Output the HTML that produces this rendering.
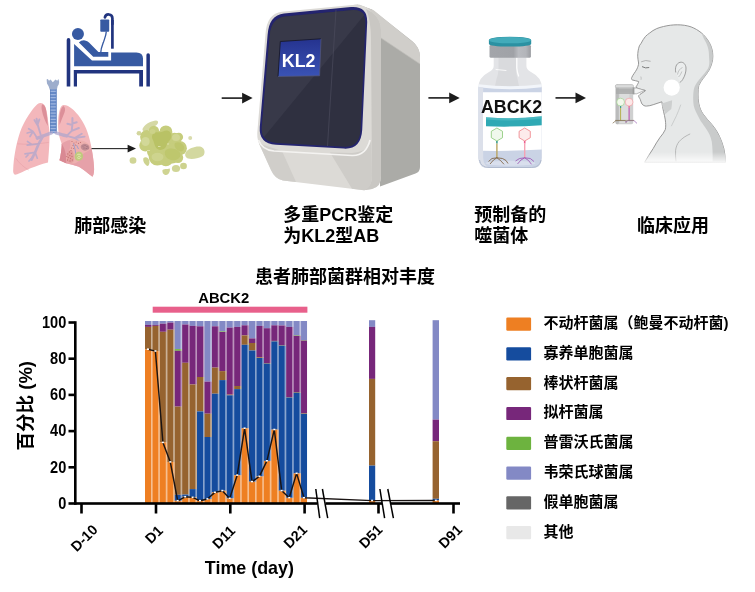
<!DOCTYPE html>
<html lang="zh"><head><meta charset="utf-8"><title>ABCK2</title>
<style>
html,body{margin:0;padding:0;background:#fff;}
svg{display:block;}
text{font-family:"Liberation Sans", "Noto Sans CJK SC", sans-serif;font-weight:bold;fill:#000;}
.tk{font-size:14.6px;}
.tx{font-size:14.3px;}
.lg{font-size:15px;}
.h{font-size:18px;}
.ab{font-size:14.8px;}
.yl{font-size:18.5px;}
.xl{font-size:17.9px;}
</style></head><body>
<svg width="755" height="592" viewBox="0 0 755 592">
<rect width="755" height="592" fill="#fff"/>
<g id="illus"><defs>
<linearGradient id="gScr" x1="0" y1="0" x2="0" y2="1"><stop offset="0" stop-color="#25338F"/><stop offset="1" stop-color="#3A53B5"/></linearGradient>
<linearGradient id="gSide" x1="0" y1="0" x2="1" y2="0"><stop offset="0" stop-color="#B4B3AF"/><stop offset="1" stop-color="#A6A5A1"/></linearGradient>
<linearGradient id="gFade" x1="0" y1="0" x2="0" y2="1"><stop offset="0" stop-color="#fff" stop-opacity="0"/><stop offset="1" stop-color="#fff" stop-opacity="1"/></linearGradient>
<linearGradient id="gCap" x1="0" y1="0" x2="1" y2="0"><stop offset="0" stop-color="#3C9FAE"/><stop offset="0.5" stop-color="#4FB4C2"/><stop offset="1" stop-color="#2F8C9B"/></linearGradient>
<linearGradient id="gCol" x1="0" y1="0" x2="1" y2="0"><stop offset="0" stop-color="#A3A5AA"/><stop offset="0.58" stop-color="#A0A2A7"/><stop offset="0.7" stop-color="#B9BBC0"/><stop offset="0.88" stop-color="#B3B5BA"/><stop offset="1" stop-color="#9A9CA1"/></linearGradient>
</defs>

<!-- bed icon -->
<g id="bed">
<path d="M66.7 86.6V39.9A1.8 1.8 0 0 1 70.3 39.9V86.6Z" fill="#21347F"/>
<path d="M146.4 86.6V54.9A1.75 1.75 0 0 1 149.9 54.9V86.6Z" fill="#21347F"/>
<path d="M73.8 70.1H143V86.6H139.2V73.5H77V86.6H73.8Z" fill="#21347F"/>
<path d="M74.1 44.1L92 60.4H111.1V52.4H136.4Q143 52.4 143 58.6V66.3H74.1Z" fill="#375AA2"/>
<path d="M78.9 42.6Q81 40 85 40.4Q87.5 40.8 89 42.6L98.4 52H108.3V56.8H93.2Z" fill="#375AA2"/>
<circle cx="77.95" cy="33.9" r="6" fill="#375AA2"/>
<rect x="100.3" y="19.5" width="8.9" height="12.3" rx="0.8" fill="#375AA2"/>
<path d="M112.4 24V18.2A3.8 3.8 0 0 0 104.9 17.4" fill="none" stroke="#21347F" stroke-width="2.7" stroke-linecap="round"/><rect x="111.050" y="20" width="2.700" height="28.700" fill="#21347F"/>
<path d="M106.3 31.5C106 36 104.7 38.5 103.5 42C102 46 100.9 48 100.8 52.2" fill="none" stroke="#375AA2" stroke-width="1.35"/>
</g>

<!-- lungs -->
<g id="lungs">
<path d="M46.600 79.500L47.800 79L49 80.700L50.600 79.400L52.800 82.200L55.500 79.400L57.200 80.800L58.500 79L59.200 82L58.700 84.500L57.600 86.200L56.800 90H49.900L48.600 86.200L47 83.500Z" fill="#9DADCC"/>
<rect x="50" y="89.500" width="6.700" height="43.700" fill="#668AC7"/>
<path d="M50 91.4H56.7M50 94.5H56.7M50 97.6H56.7M50 100.7H56.7M50 103.8H56.7M50 106.9H56.7M50 110.0H56.7M50 113.1H56.7M50 116.2H56.7M50 119.3H56.7M50 122.4H56.7M50 125.5H56.7M50 128.6H56.7M50 131.7H56.7" stroke="#9DB5E0" stroke-width="1.25"/>
<rect x="50" y="89.500" width="1" height="43.700" fill="#5679B8" opacity="0.5"/>
<rect x="55.700" y="89.500" width="1" height="43.700" fill="#5679B8" opacity="0.5"/>
<!-- left lung -->
<path d="M40.900 102.900C43.500 103 45.300 105.500 45.900 108.600C47 113 47.800 117 48 120.800C48.600 125 49.300 129 49.500 132.300C49.700 139 49.300 146 48.800 152.400L48 162.500C44.500 163.300 41.500 164.300 38.700 165.300C33.500 167.200 28.500 169 24.400 171C21 172.700 18 174.300 15 174.700C13.400 174.300 12.900 172 13.200 169.600C13.400 163.500 14 158 15 152.400C16.200 145.500 17.800 139 20 132.300C22.300 126 25.200 120.200 28.700 115.100C31.500 110.800 34.300 107 37.300 104.300C38.500 103.300 39.700 102.800 40.900 102.900Z" fill="#F3B7BB"/>
<path d="M42.300 104.200C45 105 46 108.500 46.300 111C47 116 47.700 121 47.900 126C45.500 122 42.800 116 41.800 110C41.400 107.500 41.500 105 42.300 104.200Z" fill="#DC8F99"/>
<path d="M17.200 143.800C27 144.800 38 144 48.800 142.400M15.700 158.200C19 163 24 167.500 28.700 170" fill="none" stroke="#E49AA3" stroke-width="0.6" opacity="0.8"/>
<!-- right lung -->
<path d="M63.100 105C66.500 104.800 69.300 106.500 71.700 108.600C75 111.300 77.800 114.500 80.300 118C83.500 122.500 85.800 127.200 87.500 132.300C89.500 138 90.800 143.500 91.800 149.500C92.800 155.500 93.700 161 94 166.800C94.300 170.500 94 174.500 92.500 176.800C88 173.500 83.500 169.500 78.900 166.800C74.500 165 70 164.200 66 163.200L59.500 160.300C60.200 157.500 60.700 155 61 152.400C61.500 149.500 61.900 146.500 61.700 143.800C60.500 140.500 59.300 137 58.800 133.800C58.100 129.500 57.900 125 58.100 120.800C58.300 117 58.800 113.500 59.500 110.800C60.200 108 61.300 105.500 63.100 105Z" fill="#F3B7BB"/>
<path d="M63.300 106C60.800 108 60 112 59.600 116C59.300 119 59.300 122 59.600 125C61 121 63 116.500 64.500 112.500C65.500 110 65.300 107 63.300 106Z" fill="#DC8F99"/>
<path d="M61.700 143.800C64 142 67 140.500 70 140C74 139.700 78 141 81 143C84.500 145.300 88.500 147.300 91.800 149.500C92.800 155.500 93.700 161 94 166.800C94.300 170.500 94 174.500 92.500 176.800C88 173.500 83.500 169.500 78.900 166.800C74.500 165 70 164.200 66 163.200L59.500 160.300C60.200 157.500 60.700 155 61 152.400C61.500 149.500 61.900 146.500 61.700 143.800Z" fill="#E6A1A9"/>
<path d="M61.700 143.800C63.500 146.500 65 150 65.700 154C66.200 157 66.400 160 66.200 163.200L59.500 160.300C60.200 157.500 60.700 155 61 152.400C61.500 149.500 61.900 146.500 61.700 143.800Z" fill="#D98993"/>
<!-- bronchi -->
<g fill="none" stroke="#ADA6CD" stroke-linecap="round" stroke-linejoin="round" opacity="0.72">
<path d="M51.500 132.800L43 136L37.300 138.200" stroke-width="3.400"/>
<path d="M43 136L38.700 143.800L35.100 152.400L31.500 159.600" stroke-width="2.700"/>
<path d="M40.800 135L38 125.900L36.600 118.700M38 125.900L34.400 120.100M37.800 124L39.400 119.400" stroke-width="1.900"/>
<path d="M37.300 138.200L33 131.500L27.200 133M33 131.500L28.700 128.700M33 131.500L30 136.500" stroke-width="1.800"/>
<path d="M38.700 143.800L27.200 145.200M32 144.600L27.500 141.500M35.100 152.400L25 153.800M30 153L26 157M35.100 152.400L37.300 158.200M33 156.500L29 161" stroke-width="1.700"/>
<path d="M56 132.800L63 135L66.700 135.900" stroke-width="3.400"/>
<path d="M66.700 135.900L71.700 130.900L72.400 124L72.400 118M72.400 125L67.400 123.700M72.400 123.500L76.700 122.300M71.700 130.900L78.900 128" stroke-width="2"/>
<path d="M66.700 135.900L74.600 138L81.800 133.800M74.600 138L84.600 136.600M74.600 138L80 142" stroke-width="1.900"/>
</g>
<!-- infection -->
<g>
<path d="M70.300 139.500C72.500 138.300 75.500 139.800 78 140.800C81.500 139.800 85 141.300 88 143.500C90.500 145.300 91 148 89.500 150C87 152 84 152.300 82.500 154.800C81.500 158.500 79 162 75.500 163.200C71 164.200 66.800 163 66 159C66 155 68.500 151.500 70 148C70.800 145 70 142 70.300 139.500Z" fill="#EDB0AE"/>
<g fill="#B4555B" opacity="0.72">
<circle cx="72" cy="141.500" r="0.600"/><circle cx="74" cy="143" r="0.600"/><circle cx="76.200" cy="142" r="0.600"/><circle cx="78.500" cy="143.300" r="0.600"/><circle cx="73" cy="145.500" r="0.600"/><circle cx="75.500" cy="145" r="0.600"/><circle cx="71.500" cy="148" r="0.600"/><circle cx="73.700" cy="148.500" r="0.600"/><circle cx="80.500" cy="142.500" r="0.600"/>
<circle cx="67.800" cy="154" r="0.650"/><circle cx="69.800" cy="155.500" r="0.650"/><circle cx="68.300" cy="157.500" r="0.650"/><circle cx="70.500" cy="158.500" r="0.650"/><circle cx="69.500" cy="152" r="0.650"/><circle cx="71.500" cy="153.500" r="0.650"/><circle cx="67.500" cy="160" r="0.650"/><circle cx="70" cy="161" r="0.650"/><circle cx="72" cy="156.500" r="0.650"/><circle cx="72.300" cy="160" r="0.650"/><circle cx="66.800" cy="156.500" r="0.600"/><circle cx="71" cy="150.500" r="0.600"/>
</g>
<path d="M68.500 151C66.800 154 66.300 158 67.300 161.500C69 163.300 72 163.300 73.500 161.500C74.500 158 74 154 72.500 151C71 150 69.500 150 68.500 151Z" fill="#CF7C7C" opacity="0.35"/>
<path d="M73.500 143.500L75.200 150L76 156M76.500 145L78.500 149" stroke="#8F9BD0" stroke-width="0.900" fill="none" opacity="0.9"/>
<path d="M81 145.500C82.500 143.500 85.500 143.300 87.500 144.500C89.500 145.800 90 148 88.500 149.500C86.500 151 83.500 151 82 149.500C80.800 148.300 80.300 146.800 81 145.500Z" fill="#9C6F7E" opacity="0.55"/>
<g fill="#7A4F63" opacity="0.6"><circle cx="83" cy="146" r="0.550"/><circle cx="85" cy="145.300" r="0.550"/><circle cx="87" cy="146.500" r="0.550"/><circle cx="84" cy="148" r="0.550"/><circle cx="86.200" cy="148.500" r="0.550"/><circle cx="88" cy="148" r="0.550"/></g>
<path d="M75.500 153.500C77 151.500 80.500 151.300 82 153C83.500 154.800 83.500 157.500 82 159.300C80.500 161 77.500 161.300 75.800 159.800C74.300 158.300 74.300 155.300 75.500 153.500Z" fill="#BCCB7A" opacity="0.92"/>
<path d="M77 155C78 153.800 80 153.800 80.800 155M80.800 157.500C80 158.800 78 158.800 77.200 157.700M78.300 156.300H79.800" fill="none" stroke="#E6EDB5" stroke-width="0.800" stroke-linecap="round"/>
</g>
</g>

<!-- arrow lungs->sputum and flow arrows -->
<g id="arrows" fill="#1c1c1c" stroke="none">
<rect x="91.5" y="148.1" width="37" height="1.05"/><path d="M127.6 144.8L136 148.6L127.6 152.4Z"/>
<rect x="221.7" y="97.3" width="21" height="1.6"/><path d="M242.1 92.8L252.6 98.1L242.1 103.4Z"/>
<rect x="428.400" y="97.100" width="21.500" height="1.600"/><path d="M449.200 92.600L459.700 97.900L449.200 103.200Z"/>
<rect x="555.500" y="97.100" width="21" height="1.600"/><path d="M575.500 92.600L586 97.900L575.500 103.200Z"/>
</g>

<!-- sputum -->
<g id="sputum">
<path d="M143 128C146 123 152 121 156 120.5C159 120.5 158.5 124 156 125.5C152 127.5 148 131 145 131.5C142.5 131.5 142 129.5 143 128Z" fill="#D5D8A4"/>
<ellipse cx="139" cy="133.2" rx="2.4" ry="2.2" fill="#D3D69E"/>
<ellipse cx="190.2" cy="138" rx="2" ry="2" fill="#DADCAE"/>
<path d="M186 152C189 148 197 145.5 201.5 147C205.5 149 205.5 155 202 156.5C198 158.5 192 159.5 188 158.5C185 157.5 184.5 154 186 152Z" fill="#D3D8A0"/>
<ellipse cx="133" cy="160.5" rx="3.4" ry="3.3" fill="#D0D596"/>
<path d="M143.5 158C146 156 149.5 158.5 149.5 162C149.5 165 148 166.8 146.5 165.5C144.5 164 142.5 161 143.5 158Z" fill="#CDD390"/>
<path d="M162.5 170C165 168 168 169.5 169.7 168.5C170.5 171 169 174.5 166 175C163.5 175 162 172.5 162.5 170Z" fill="#CFD492"/>
<ellipse cx="176" cy="168.5" rx="4.1" ry="3.5" fill="#D0D596"/>
<ellipse cx="183.5" cy="166" rx="3.4" ry="3.2" fill="#CDD28E"/>
<g fill="#C6CD7D"><circle cx="147" cy="137" r="6.9"/><circle cx="145.3" cy="145.6" r="6"/><circle cx="153.9" cy="131" r="5.2"/><circle cx="165.9" cy="131.9" r="6.5"/><circle cx="159" cy="141.3" r="10.3"/><circle cx="174.5" cy="139.6" r="6.9"/><circle cx="178.8" cy="137" r="4.3"/><circle cx="179.7" cy="148.2" r="7.2"/><circle cx="171.1" cy="153.4" r="10.3"/><circle cx="157.3" cy="156.8" r="8.6"/><circle cx="153.9" cy="151.7" r="6.9"/><circle cx="165.9" cy="159.4" r="6.9"/><circle cx="178" cy="157.7" r="5.2"/><circle cx="150" cy="141" r="8"/></g>
<path d="M153 134C156 130.500 160 133.500 163 131.500C167 129 171.500 131.500 171.500 136C171.500 140 167.500 141.500 166.500 145.500C165.500 149.500 160.500 151 157.500 149C154.500 147 154.500 143 153 140C151.800 138 151.500 135.500 153 134Z" fill="#B9C265"/>
<path d="M166 150C170 147.500 176 148.500 179 151.500C182 155 179.500 159 175.500 160C171.500 161 167 159 165.500 156C164.500 153.500 164.500 151 166 150Z" fill="#BCC56A" opacity="0.85"/>
<path d="M175 143C178 141 183 143 184 146.500C185 150 182 152 179 151C176 150 173.500 146 175 143Z" fill="#BAC366" opacity="0.7"/>
<ellipse cx="145.500" cy="141.500" rx="4.200" ry="4.500" fill="#D4D99C" opacity="0.85"/>
<ellipse cx="176" cy="137.500" rx="4" ry="3.600" fill="#D2D798" opacity="0.85"/>
<ellipse cx="157.500" cy="157" rx="6" ry="4.200" fill="#D0D692" opacity="0.8"/>
<ellipse cx="152.500" cy="131.500" rx="3" ry="2.500" fill="#CDD38C" opacity="0.8"/>
<path d="M147 150.500h3M158 146.500h2.500M167 144h2" stroke="#E6EABF" stroke-width="0.7" fill="none"/>
</g>

<!-- PCR machine -->
<g id="machine">
<!-- right side body -->
<path d="M357 4.5L372 9.5L412 41Q420 47.5 420 57V167Q420 172 415.5 173.5L380 186.5L379 24Z" fill="#ABABA7"/>
<!-- top face -->
<path d="M352 5.2Q357.5 3.6 363 6L374 10.5L414 43Q420 48.500 420 57V64L381 38L371 14Z" fill="#D0CECA"/>
<path d="M381 38L420 64" fill="none" stroke="#BEBDB9" stroke-width="0.7"/>
<!-- front bezel + lower front -->
<path d="M282 11.700L352 5Q366 4 371.500 12Q381 19 381 30V176Q381 187 372 189L364 190.300L283 180.500Q275 179 271 170L259 143.500Q256.500 137 257.500 130L265.500 34Q266.800 13.300 282 11.700Z" fill="#DCDAD6"/>
<path d="M371.500 12Q381 19 381 30V176Q381 187 372 189L364 190.300Q372 186 372 176L371 40Q371 20 366 9Z" fill="#C9C7C3"/>
<path d="M259 143.500L271 170Q275 179 283 180.500L296 182L282 151Z" fill="#D0CECA"/>
<path d="M330 152.500L352 188.800L364 190.300Q372 188 372 176L371.500 140Q368 152 352 153Z" fill="#CECCC8"/>
<path d="M258.500 140Q262 150 274 151L352 155.500Q366 156 370 140" fill="none" stroke="#F4F3F1" stroke-width="1.6"/>
<!-- dark panel -->
<path d="M284 13.600L351 7.100Q367.500 6 367.200 22L362.200 130Q361 149.500 344 148.600L276 144.700Q258.500 143.500 259.800 127L267.600 35Q269 15.200 284 13.600Z" fill="#24246F"/>
<path d="M285.500 16.400L351 10.200Q365.600 9.200 365.400 23L360.600 130Q359.500 147.600 344 146.800L276.800 142.900Q260.600 141.800 261.800 127L269.800 35Q271.200 17.800 285.500 16.400Z" fill="#2F3040"/>
<path d="M285.500 16.400L351 10.200Q361 9.400 364.300 15L264 137Q261.400 133 261.800 127L269.800 35Q271.200 17.800 285.500 16.400Z" fill="#383949"/>
<path d="M365.800 30L362.500 95L300 145L276.500 143.300Q268 142.800 264 138.500L365.700 20Z" fill="#343545" opacity="0.0"/>
<path d="M336 10L327.500 146" stroke="#4A4B5C" stroke-width="0.7" fill="none"/>
<!-- screen -->
<path d="M280.300 41.500L321 38.800L319.600 75.800L278 76.500Z" fill="url(#gScr)"/><path d="M278 76.500L280.300 41.500L321 38.800" fill="none" stroke="#17182A" stroke-width="0.9"/><path d="M321 38.800L319.600 75.800L278 76.500" fill="none" stroke="#55587A" stroke-width="0.7"/>
<text x="298.600" y="66.900" text-anchor="middle" style="font-size:17.800px;fill:#fff">KL2</text>
</g>

<!-- vial -->
<g id="vial">
<path d="M493.700 57V66Q493.700 69.500 489 72Q478.500 77.500 478.500 87V158Q478.500 168 489 168H531.500Q541.700 168 541.700 158V87Q541.700 77.500 531 72Q526.400 69.500 526.400 66V57Z" fill="#E3E4E7"/>
<path d="M498.500 57V68Q498.500 74 496.500 79L495 86H519L517.500 79Q516 74 516 68V57Z" fill="#D9DADD"/>
<path d="M516.800 58V68Q517.300 73 518.600 76" fill="none" stroke="#fff" stroke-width="1.300" stroke-linecap="round" opacity="0.9"/>
<path d="M496 69.500L506 70.500" fill="none" stroke="#fff" stroke-width="0.900" stroke-linecap="round" opacity="0.9"/>
<path d="M478.500 86.500H541.700V158Q541.700 168 531.500 168H489Q478.500 168 478.500 158Z" fill="#CAD3E5"/>
<path d="M478.500 84.300Q510 88 541.700 84.300V87.300Q510 91 478.500 87.300Z" fill="#F2F5FA"/>
<path d="M478.500 87V158Q478.500 168 489 168H492Q483.200 167 483.200 158V87.500Z" fill="#DCE0EA"/>
<path d="M483 92.300H541.700V149.600Q512 151.300 483 150.800Z" fill="#fff"/>
<path d="M479.500 160Q480.500 167.300 489 167.500H531.500Q540 167.300 541 160" fill="none" stroke="#AEB8CC" stroke-width="0.9"/>
<ellipse cx="510.500" cy="163.300" rx="25" ry="2.500" fill="#DDE3EF" opacity="0.75"/>
<path d="M486 117.300Q513 119.800 541.700 116.300V125.300Q513 127.300 486 126.300Z" fill="#2FA9B4"/>
<path d="M486 117.300Q513 119.800 541.700 116.300V118.600Q513 121.800 486 119.600Z" fill="#5CC3CB" opacity="0.55"/>
<rect x="489.500" y="44.800" width="41.400" height="13" rx="1.500" fill="url(#gCol)"/>
<path d="M488.900 40.500Q488.900 36.800 510 36.800Q531.200 36.800 531.200 40.500V43.800Q531.200 46.600 510 46.600Q488.900 46.600 488.900 43.800Z" fill="#2B91A2"/>
<ellipse cx="510" cy="40.200" rx="21.100" ry="3.100" fill="#43ABBA"/>
<text x="511.600" y="113.100" text-anchor="middle" style="font-size:17.800px;fill:#111">ABCK2</text>
<!-- phages -->
<g fill="none" stroke-width="0.8">
<path d="M496.900 128L502.500 131.300V137.700L496.900 141L491.300 137.700V131.300Z" stroke="#86C874" fill="#F0F8EC"/>
<path d="M496.900 141V143.500" stroke="#3E9E8E" stroke-width="1.600"/>
<path d="M496.900 143.500V158" stroke="#B9A461" stroke-width="1.400"/>
<path d="M496.900 157.800L492 158.500L488.500 161.500M496.900 157.800L502.500 158.500L506 160.500L508 163.500M496.900 157.800L493.500 160L490 164M496.900 157.800L500.500 160.500L504 164.300" stroke="#7A5C38" stroke-width="0.8"/>
<path d="M524.700 128L530.300 131.300V137.700L524.700 141L519.100 137.700V131.300Z" stroke="#EE7F85" fill="#FDEBEB"/>
<path d="M524.700 141V143.500" stroke="#EC5F8F" stroke-width="1.600"/>
<path d="M524.700 143.500V158" stroke="#F5A3B4" stroke-width="1.400"/>
<path d="M524.700 157.800L519.500 158.500L515.500 161M524.700 157.800L530.300 158.500L534 161.500M524.700 157.800L521 160L517.500 164M524.700 157.800L528.500 160.500L531.500 164.300" stroke="#9A4FB3" stroke-width="0.8"/>
</g>
</g>

<!-- head with inhaler -->
<g id="head">
<path d="M677.300 24.800C672.500 24.800 668 25.400 663.500 26.500C661 27.100 658.800 27.700 656.700 28.600C654 29.800 651.800 31.200 649.800 32.900C648.200 34 646.800 35.100 645.500 36.400C643.700 38.500 642.400 40.800 641.200 43.200L639.400 45.800C638.300 49 637.700 52.500 637.700 56.200C637.700 58.500 638.300 60.800 638.600 63C638.600 65.200 637.700 67.200 636.900 69.100C635.300 72.200 632.500 75.200 631.700 77.700C631.300 78.700 631.500 79.500 632.200 79.900C634 80.800 636.800 80.600 638.600 81.500C638.700 82.700 637.800 83.600 637.400 84.600C637 85.700 635.900 86.500 636 87.500C638.800 89.200 642.500 89.600 645.500 90.600C643.500 92.500 640 93.800 638.600 95.800C638.600 97.200 639.800 98.300 640.300 99.500C640.800 101 641.200 102.700 642 104C643.100 105.300 644.700 106.200 646.300 106.100C648.700 106.100 651 105.400 653.200 104.700L661.800 101.800C662.200 105 662.900 108.200 663.500 111.300C664.100 114.200 665 117 665.300 119.900C665.700 123 666 126.500 665.300 129.600C664 132.600 662 135 660.100 137.300C657.500 141 655.200 144.700 653.200 148.500C650.200 153 647.200 157.700 644.600 162.300H725.500C725.400 157.500 724.800 153 723.800 148.500C722.800 144.300 721.300 140.300 719.500 136.500C717.500 132 714.800 128 711.800 124.400C709 121 705.500 117.800 703.100 114.100C701 111 699.500 107.500 698.800 103.800C698.200 100.500 697.900 97.200 698 94C698 91 698.200 88 698.800 85.400C700 82.800 701.500 80.600 703.100 78.500C705.200 75.700 707.500 73 709.200 69.900C710.800 66.700 712 63.300 712.600 59.600C712.900 57.300 712.900 55 712.600 52.700C712.100 49 711 45.500 709.200 42.400C707.200 38.800 704.500 35.600 701.400 32.900C698.400 30.400 694.900 28.400 691.100 26.900C686.800 25.400 682 24.800 677.300 24.800Z" fill="#E6E8E8" stroke="#8C8C8C" stroke-width="0.9"/>
<path d="M701.400 32.900C704.500 35.600 707.200 38.800 709.200 42.400C711 45.500 712.100 49 712.600 52.700C712.900 55 712.900 57.300 712.600 59.600C712 63.300 710.800 66.700 709.200 69.900C707.500 73 705.200 75.700 703.100 78.500C701.500 80.600 700 82.800 698.800 85.400C698.200 88 698 91 698 94C697.900 97.200 698.200 100.500 698.800 103.800C699.500 107.500 701 111 703.100 114.100C705.500 117.800 709 121 711.800 124.400C714.800 128 717.500 132 719.500 136.500C721.300 140.300 722.800 144.300 723.800 148.500C724.800 153 725.400 157.500 725.500 162.300H712.600C712.800 155 712.600 148 711.800 141.700C710.800 137 709 133 706.600 129.600C704 125.500 700.800 121.800 698.800 117.500C696.800 113.500 694.500 109.500 693.700 105.500C693 100.500 693 95 693.700 90C694.500 85.500 697 82 700.100 78.500C703 75 706 72 708 68.500C709.500 65.500 709.500 62.500 709.200 59.600C709 55.500 709 52.500 708.300 49C707.300 44.500 705.500 41.500 704 39Z" fill="#C9CBCB"/>
<path d="M661.800 103.400L672.100 100.300C672.100 103 671.800 106 671.300 108.900C669.500 110.500 667 112.500 665.300 114.100C664.400 110.700 662.300 107 661.800 103.400Z" fill="#CDCFCF"/>
<path d="M680.800 104.600C679.500 108.500 678 112.200 676.400 115.800C674.800 119.300 673 122.800 671.300 126.200" fill="none" stroke="#BFC1C1" stroke-width="0.7"/>
<path d="M690.200 133.900C686 135.800 682 138.200 679 141.700C677 144.300 676 147.200 675.600 150.300C675.300 154 675.600 157.800 676 161.500" fill="none" stroke="#A9ABAB" stroke-width="0.8"/>
<path d="M675.800 72.500C674.800 68 676 63.500 680 62.300C683.500 61.600 685.800 64.500 686 68C686.200 72 684.800 76 682.700 79.500C681.800 81 680.800 82 679.800 82.200" fill="#EBEDED" stroke="#8C8C8C" stroke-width="0.8"/>
<path d="M677.500 74.500C678 71 680 68.500 682.500 67.500M678.500 77C680 75.500 681.200 73.500 681.800 71.500" fill="none" stroke="#A6A8A8" stroke-width="0.6"/>
<path d="M642 66.600Q645.500 68.700 649.200 67.500" fill="none" stroke="#6E6E6E" stroke-width="0.9"/>
<path d="M641.200 61.800Q645.500 59.500 650.600 61.300" fill="none" stroke="#9a9a9a" stroke-width="0.7"/>
<path d="M640.800 76.500Q641.500 78 641 79.800" fill="none" stroke="#A6A8A8" stroke-width="0.6"/>
<rect x="630" y="152" width="110" height="12.500" fill="url(#gFade)"/>
<circle cx="671.700" cy="87.600" r="8.100" fill="#fff"/>
<!-- inhaler -->
<rect x="615.600" y="84.600" width="17.600" height="39.600" rx="1.800" fill="#CFD0D0"/>
<rect x="619.500" y="92" width="10" height="31" fill="#DEDFDF" opacity="0.85"/>
<rect x="615.600" y="84.600" width="3.200" height="39.600" rx="1.500" fill="#B4B5B5" opacity="0.8"/>
<rect x="615.300" y="84.600" width="18.200" height="3.200" rx="1.500" fill="#DADBDB" stroke="#ABABAB" stroke-width="0.5"/>
<rect x="616" y="88.500" width="17" height="5.500" fill="#A9AAAA" opacity="0.85"/>
<path d="M633.300 88H636.500L645 90.300L636.500 93.800H633.300Z" fill="#F3F4F4" stroke="#8f8f8f" stroke-width="0.6"/>
<rect x="632.800" y="87.300" width="1.600" height="7" fill="#9C9D9D"/>
<circle cx="620.600" cy="102.100" r="3.900" fill="#F2F8EC" stroke="#9AD08A" stroke-width="0.65"/>
<circle cx="629.100" cy="102.100" r="3.900" fill="#FCE8E8" stroke="#F09CA0" stroke-width="0.65"/>
<path d="M620.600 106V108" stroke="#3E9E8E" stroke-width="1.200"/>
<path d="M629.100 106V108" stroke="#EC5F8F" stroke-width="1.200"/>
<path d="M620.600 108V120.500" stroke="#B5B04F" stroke-width="1"/>
<path d="M629.100 108V120.500" stroke="#B84FAE" stroke-width="1.100"/>
<path d="M612.700 123.200L616 120.600H625L627 122.500" stroke="#7E6A4A" stroke-width="0.7" fill="none"/>
<path d="M625 122.500L628 120.600H634L637 123.400" stroke="#9A5FB5" stroke-width="0.7" fill="none"/>
<path d="M615 120.400H634" stroke="#8a7a60" stroke-width="0.8" fill="none" opacity="0.8"/>
</g>
</g>
<g id="chart"><rect x="150.90" y="321.00" width="1.63" height="3.90" fill="#8389C5" opacity="0.5"/><rect x="150.90" y="324.90" width="1.63" height="2.00" fill="#77277A" opacity="0.5"/><rect x="150.90" y="326.90" width="1.63" height="22.40" fill="#96632F" opacity="0.5"/><rect x="150.90" y="349.30" width="1.63" height="154.20" fill="#EE7F22" opacity="0.5"/><rect x="145.00" y="321.00" width="6.00" height="3.90" fill="#8389C5"/><rect x="145.00" y="324.90" width="6.00" height="2.00" fill="#77277A"/><rect x="145.00" y="326.90" width="6.00" height="22.40" fill="#96632F"/><rect x="145.00" y="349.30" width="6.00" height="154.20" fill="#EE7F22"/><rect x="158.33" y="321.00" width="1.63" height="3.90" fill="#8389C5" opacity="0.5"/><rect x="158.33" y="324.90" width="1.63" height="1.00" fill="#77277A" opacity="0.5"/><rect x="158.33" y="325.90" width="1.63" height="25.20" fill="#96632F" opacity="0.5"/><rect x="158.33" y="351.10" width="1.63" height="152.40" fill="#EE7F22" opacity="0.5"/><rect x="152.43" y="321.00" width="6.00" height="3.90" fill="#8389C5"/><rect x="152.43" y="324.90" width="6.00" height="1.00" fill="#77277A"/><rect x="152.43" y="325.90" width="6.00" height="25.20" fill="#96632F"/><rect x="152.43" y="351.10" width="6.00" height="152.40" fill="#EE7F22"/><rect x="165.76" y="321.00" width="1.63" height="2.70" fill="#8389C5" opacity="0.5"/><rect x="165.76" y="323.70" width="1.63" height="8.10" fill="#77277A" opacity="0.5"/><rect x="165.76" y="331.80" width="1.63" height="110.70" fill="#96632F" opacity="0.5"/><rect x="165.76" y="442.50" width="1.63" height="61.00" fill="#EE7F22" opacity="0.5"/><rect x="159.86" y="321.00" width="6.00" height="2.70" fill="#8389C5"/><rect x="159.86" y="323.70" width="6.00" height="8.10" fill="#77277A"/><rect x="159.86" y="331.80" width="6.00" height="110.70" fill="#96632F"/><rect x="159.86" y="442.50" width="6.00" height="61.00" fill="#EE7F22"/><rect x="173.19" y="321.00" width="1.63" height="1.60" fill="#8389C5" opacity="0.5"/><rect x="173.19" y="322.60" width="1.63" height="7.10" fill="#77277A" opacity="0.5"/><rect x="173.19" y="329.70" width="1.63" height="132.30" fill="#96632F" opacity="0.5"/><rect x="173.19" y="462.00" width="1.63" height="41.50" fill="#EE7F22" opacity="0.5"/><rect x="167.29" y="321.00" width="6.00" height="1.60" fill="#8389C5"/><rect x="167.29" y="322.60" width="6.00" height="7.10" fill="#77277A"/><rect x="167.29" y="329.70" width="6.00" height="132.30" fill="#96632F"/><rect x="167.29" y="462.00" width="6.00" height="41.50" fill="#EE7F22"/><rect x="180.62" y="321.00" width="1.63" height="28.10" fill="#8389C5" opacity="0.5"/><rect x="180.62" y="349.10" width="1.63" height="1.70" fill="#6DB33F" opacity="0.5"/><rect x="180.62" y="350.80" width="1.63" height="55.80" fill="#77277A" opacity="0.5"/><rect x="180.62" y="406.60" width="1.63" height="88.20" fill="#96632F" opacity="0.5"/><rect x="180.62" y="494.80" width="1.63" height="6.00" fill="#154C9E" opacity="0.5"/><rect x="180.62" y="500.80" width="1.63" height="2.70" fill="#EE7F22" opacity="0.5"/><rect x="174.72" y="321.00" width="6.00" height="28.10" fill="#8389C5"/><rect x="174.72" y="349.10" width="6.00" height="1.70" fill="#6DB33F"/><rect x="174.72" y="350.80" width="6.00" height="55.80" fill="#77277A"/><rect x="174.72" y="406.60" width="6.00" height="88.20" fill="#96632F"/><rect x="174.72" y="494.80" width="6.00" height="6.00" fill="#154C9E"/><rect x="174.72" y="500.80" width="6.00" height="2.70" fill="#EE7F22"/><rect x="188.05" y="321.00" width="1.63" height="3.50" fill="#8389C5" opacity="0.5"/><rect x="188.05" y="324.50" width="1.63" height="38.30" fill="#77277A" opacity="0.5"/><rect x="188.05" y="362.80" width="1.63" height="131.80" fill="#96632F" opacity="0.5"/><rect x="188.05" y="494.60" width="1.63" height="2.20" fill="#154C9E" opacity="0.5"/><rect x="188.05" y="496.80" width="1.63" height="6.70" fill="#EE7F22" opacity="0.5"/><rect x="182.15" y="321.00" width="6.00" height="3.50" fill="#8389C5"/><rect x="182.15" y="324.50" width="6.00" height="38.30" fill="#77277A"/><rect x="182.15" y="362.80" width="6.00" height="131.80" fill="#96632F"/><rect x="182.15" y="494.60" width="6.00" height="2.20" fill="#154C9E"/><rect x="182.15" y="496.80" width="6.00" height="6.70" fill="#EE7F22"/><rect x="195.48" y="321.00" width="1.63" height="4.90" fill="#8389C5" opacity="0.5"/><rect x="195.48" y="325.90" width="1.63" height="58.60" fill="#77277A" opacity="0.5"/><rect x="195.48" y="384.50" width="1.63" height="104.60" fill="#96632F" opacity="0.5"/><rect x="195.48" y="489.10" width="1.63" height="8.30" fill="#154C9E" opacity="0.5"/><rect x="195.48" y="497.40" width="1.63" height="6.10" fill="#EE7F22" opacity="0.5"/><rect x="189.58" y="321.00" width="6.00" height="4.90" fill="#8389C5"/><rect x="189.58" y="325.90" width="6.00" height="58.60" fill="#77277A"/><rect x="189.58" y="384.50" width="6.00" height="104.60" fill="#96632F"/><rect x="189.58" y="489.10" width="6.00" height="8.30" fill="#154C9E"/><rect x="189.58" y="497.40" width="6.00" height="6.10" fill="#EE7F22"/><rect x="202.91" y="321.00" width="1.63" height="5.30" fill="#8389C5" opacity="0.5"/><rect x="202.91" y="326.30" width="1.63" height="50.70" fill="#77277A" opacity="0.5"/><rect x="202.91" y="377.00" width="1.63" height="34.40" fill="#96632F" opacity="0.5"/><rect x="202.91" y="411.40" width="1.63" height="89.40" fill="#154C9E" opacity="0.5"/><rect x="202.91" y="500.80" width="1.63" height="2.70" fill="#EE7F22" opacity="0.5"/><rect x="197.01" y="321.00" width="6.00" height="5.30" fill="#8389C5"/><rect x="197.01" y="326.30" width="6.00" height="50.70" fill="#77277A"/><rect x="197.01" y="377.00" width="6.00" height="34.40" fill="#96632F"/><rect x="197.01" y="411.40" width="6.00" height="89.40" fill="#154C9E"/><rect x="197.01" y="500.80" width="6.00" height="2.70" fill="#EE7F22"/><rect x="210.34" y="321.00" width="1.63" height="60.60" fill="#8389C5" opacity="0.5"/><rect x="210.34" y="381.60" width="1.63" height="32.10" fill="#77277A" opacity="0.5"/><rect x="210.34" y="413.70" width="1.63" height="23.30" fill="#96632F" opacity="0.5"/><rect x="210.34" y="437.00" width="1.63" height="62.00" fill="#154C9E" opacity="0.5"/><rect x="210.34" y="499.00" width="1.63" height="4.50" fill="#EE7F22" opacity="0.5"/><rect x="204.44" y="321.00" width="6.00" height="60.60" fill="#8389C5"/><rect x="204.44" y="381.60" width="6.00" height="32.10" fill="#77277A"/><rect x="204.44" y="413.70" width="6.00" height="23.30" fill="#96632F"/><rect x="204.44" y="437.00" width="6.00" height="62.00" fill="#154C9E"/><rect x="204.44" y="499.00" width="6.00" height="4.50" fill="#EE7F22"/><rect x="217.77" y="321.00" width="1.63" height="5.30" fill="#8389C5" opacity="0.5"/><rect x="217.77" y="326.30" width="1.63" height="41.30" fill="#77277A" opacity="0.5"/><rect x="217.77" y="367.60" width="1.63" height="26.10" fill="#96632F" opacity="0.5"/><rect x="217.77" y="393.70" width="1.63" height="98.70" fill="#154C9E" opacity="0.5"/><rect x="217.77" y="492.40" width="1.63" height="11.10" fill="#EE7F22" opacity="0.5"/><rect x="211.87" y="321.00" width="6.00" height="5.30" fill="#8389C5"/><rect x="211.87" y="326.30" width="6.00" height="41.30" fill="#77277A"/><rect x="211.87" y="367.60" width="6.00" height="26.10" fill="#96632F"/><rect x="211.87" y="393.70" width="6.00" height="98.70" fill="#154C9E"/><rect x="211.87" y="492.40" width="6.00" height="11.10" fill="#EE7F22"/><rect x="225.20" y="321.00" width="1.63" height="10.30" fill="#8389C5" opacity="0.5"/><rect x="225.20" y="331.30" width="1.63" height="0.60" fill="#6DB33F" opacity="0.5"/><rect x="225.20" y="331.90" width="1.63" height="39.20" fill="#77277A" opacity="0.5"/><rect x="225.20" y="371.10" width="1.63" height="9.00" fill="#96632F" opacity="0.5"/><rect x="225.20" y="380.10" width="1.63" height="110.60" fill="#154C9E" opacity="0.5"/><rect x="225.20" y="490.70" width="1.63" height="12.80" fill="#EE7F22" opacity="0.5"/><rect x="219.30" y="321.00" width="6.00" height="10.30" fill="#8389C5"/><rect x="219.30" y="331.30" width="6.00" height="0.60" fill="#6DB33F"/><rect x="219.30" y="331.90" width="6.00" height="39.20" fill="#77277A"/><rect x="219.30" y="371.10" width="6.00" height="9.00" fill="#96632F"/><rect x="219.30" y="380.10" width="6.00" height="110.60" fill="#154C9E"/><rect x="219.30" y="490.70" width="6.00" height="12.80" fill="#EE7F22"/><rect x="232.63" y="321.00" width="1.63" height="6.60" fill="#8389C5" opacity="0.5"/><rect x="232.63" y="327.60" width="1.63" height="67.00" fill="#77277A" opacity="0.5"/><rect x="232.63" y="394.60" width="1.63" height="0.70" fill="#96632F" opacity="0.5"/><rect x="232.63" y="395.30" width="1.63" height="103.10" fill="#154C9E" opacity="0.5"/><rect x="232.63" y="498.40" width="1.63" height="5.10" fill="#EE7F22" opacity="0.5"/><rect x="226.73" y="321.00" width="6.00" height="6.60" fill="#8389C5"/><rect x="226.73" y="327.60" width="6.00" height="67.00" fill="#77277A"/><rect x="226.73" y="394.60" width="6.00" height="0.70" fill="#96632F"/><rect x="226.73" y="395.30" width="6.00" height="103.10" fill="#154C9E"/><rect x="226.73" y="498.40" width="6.00" height="5.10" fill="#EE7F22"/><rect x="240.06" y="321.00" width="1.63" height="5.90" fill="#8389C5" opacity="0.5"/><rect x="240.06" y="326.90" width="1.63" height="59.10" fill="#77277A" opacity="0.5"/><rect x="240.06" y="386.00" width="1.63" height="3.10" fill="#96632F" opacity="0.5"/><rect x="240.06" y="389.10" width="1.63" height="86.10" fill="#154C9E" opacity="0.5"/><rect x="240.06" y="475.20" width="1.63" height="28.30" fill="#EE7F22" opacity="0.5"/><rect x="234.16" y="321.00" width="6.00" height="5.90" fill="#8389C5"/><rect x="234.16" y="326.90" width="6.00" height="59.10" fill="#77277A"/><rect x="234.16" y="386.00" width="6.00" height="3.10" fill="#96632F"/><rect x="234.16" y="389.10" width="6.00" height="86.10" fill="#154C9E"/><rect x="234.16" y="475.20" width="6.00" height="28.30" fill="#EE7F22"/><rect x="247.49" y="321.00" width="1.63" height="4.30" fill="#8389C5" opacity="0.5"/><rect x="247.49" y="325.30" width="1.63" height="10.10" fill="#77277A" opacity="0.5"/><rect x="247.49" y="335.40" width="1.63" height="9.40" fill="#96632F" opacity="0.5"/><rect x="247.49" y="344.80" width="1.63" height="83.50" fill="#154C9E" opacity="0.5"/><rect x="247.49" y="428.30" width="1.63" height="75.20" fill="#EE7F22" opacity="0.5"/><rect x="241.59" y="321.00" width="6.00" height="4.30" fill="#8389C5"/><rect x="241.59" y="325.30" width="6.00" height="10.10" fill="#77277A"/><rect x="241.59" y="335.40" width="6.00" height="9.40" fill="#96632F"/><rect x="241.59" y="344.80" width="6.00" height="83.50" fill="#154C9E"/><rect x="241.59" y="428.30" width="6.00" height="75.20" fill="#EE7F22"/><rect x="254.92" y="321.00" width="1.63" height="17.40" fill="#8389C5" opacity="0.5"/><rect x="254.92" y="338.40" width="1.63" height="4.60" fill="#77277A" opacity="0.5"/><rect x="254.92" y="343.00" width="1.63" height="7.50" fill="#96632F" opacity="0.5"/><rect x="254.92" y="350.50" width="1.63" height="131.20" fill="#154C9E" opacity="0.5"/><rect x="254.92" y="481.70" width="1.63" height="21.80" fill="#EE7F22" opacity="0.5"/><rect x="249.02" y="321.00" width="6.00" height="17.40" fill="#8389C5"/><rect x="249.02" y="338.40" width="6.00" height="4.60" fill="#77277A"/><rect x="249.02" y="343.00" width="6.00" height="7.50" fill="#96632F"/><rect x="249.02" y="350.50" width="6.00" height="131.20" fill="#154C9E"/><rect x="249.02" y="481.70" width="6.00" height="21.80" fill="#EE7F22"/><rect x="262.35" y="321.00" width="1.63" height="4.90" fill="#8389C5" opacity="0.5"/><rect x="262.35" y="325.90" width="1.63" height="31.40" fill="#77277A" opacity="0.5"/><rect x="262.35" y="357.30" width="1.63" height="0.70" fill="#96632F" opacity="0.5"/><rect x="262.35" y="358.00" width="1.63" height="118.40" fill="#154C9E" opacity="0.5"/><rect x="262.35" y="476.40" width="1.63" height="27.10" fill="#EE7F22" opacity="0.5"/><rect x="256.45" y="321.00" width="6.00" height="4.90" fill="#8389C5"/><rect x="256.45" y="325.90" width="6.00" height="31.40" fill="#77277A"/><rect x="256.45" y="357.30" width="6.00" height="0.70" fill="#96632F"/><rect x="256.45" y="358.00" width="6.00" height="118.40" fill="#154C9E"/><rect x="256.45" y="476.40" width="6.00" height="27.10" fill="#EE7F22"/><rect x="269.78" y="321.00" width="1.63" height="7.20" fill="#8389C5" opacity="0.5"/><rect x="269.78" y="328.20" width="1.63" height="34.80" fill="#77277A" opacity="0.5"/><rect x="269.78" y="363.00" width="1.63" height="0.60" fill="#96632F" opacity="0.5"/><rect x="269.78" y="363.60" width="1.63" height="97.30" fill="#154C9E" opacity="0.5"/><rect x="269.78" y="460.90" width="1.63" height="42.60" fill="#EE7F22" opacity="0.5"/><rect x="263.88" y="321.00" width="6.00" height="7.20" fill="#8389C5"/><rect x="263.88" y="328.20" width="6.00" height="34.80" fill="#77277A"/><rect x="263.88" y="363.00" width="6.00" height="0.60" fill="#96632F"/><rect x="263.88" y="363.60" width="6.00" height="97.30" fill="#154C9E"/><rect x="263.88" y="460.90" width="6.00" height="42.60" fill="#EE7F22"/><rect x="277.21" y="321.00" width="1.63" height="4.30" fill="#8389C5" opacity="0.5"/><rect x="277.21" y="325.30" width="1.63" height="15.60" fill="#77277A" opacity="0.5"/><rect x="277.21" y="340.90" width="1.63" height="0.50" fill="#96632F" opacity="0.5"/><rect x="277.21" y="341.40" width="1.63" height="88.20" fill="#154C9E" opacity="0.5"/><rect x="277.21" y="429.60" width="1.63" height="73.90" fill="#EE7F22" opacity="0.5"/><rect x="271.31" y="321.00" width="6.00" height="4.30" fill="#8389C5"/><rect x="271.31" y="325.30" width="6.00" height="15.60" fill="#77277A"/><rect x="271.31" y="340.90" width="6.00" height="0.50" fill="#96632F"/><rect x="271.31" y="341.40" width="6.00" height="88.20" fill="#154C9E"/><rect x="271.31" y="429.60" width="6.00" height="73.90" fill="#EE7F22"/><rect x="284.64" y="321.00" width="1.63" height="4.50" fill="#8389C5" opacity="0.5"/><rect x="284.64" y="325.50" width="1.63" height="19.60" fill="#77277A" opacity="0.5"/><rect x="284.64" y="345.10" width="1.63" height="0.50" fill="#96632F" opacity="0.5"/><rect x="284.64" y="345.60" width="1.63" height="145.10" fill="#154C9E" opacity="0.5"/><rect x="284.64" y="490.70" width="1.63" height="12.80" fill="#EE7F22" opacity="0.5"/><rect x="278.74" y="321.00" width="6.00" height="4.50" fill="#8389C5"/><rect x="278.74" y="325.50" width="6.00" height="19.60" fill="#77277A"/><rect x="278.74" y="345.10" width="6.00" height="0.50" fill="#96632F"/><rect x="278.74" y="345.60" width="6.00" height="145.10" fill="#154C9E"/><rect x="278.74" y="490.70" width="6.00" height="12.80" fill="#EE7F22"/><rect x="292.07" y="321.00" width="1.63" height="5.90" fill="#8389C5" opacity="0.5"/><rect x="292.07" y="326.90" width="1.63" height="70.10" fill="#77277A" opacity="0.5"/><rect x="292.07" y="397.00" width="1.63" height="0.50" fill="#96632F" opacity="0.5"/><rect x="292.07" y="397.50" width="1.63" height="100.30" fill="#154C9E" opacity="0.5"/><rect x="292.07" y="497.80" width="1.63" height="5.70" fill="#EE7F22" opacity="0.5"/><rect x="286.17" y="321.00" width="6.00" height="5.90" fill="#8389C5"/><rect x="286.17" y="326.90" width="6.00" height="70.10" fill="#77277A"/><rect x="286.17" y="397.00" width="6.00" height="0.50" fill="#96632F"/><rect x="286.17" y="397.50" width="6.00" height="100.30" fill="#154C9E"/><rect x="286.17" y="497.80" width="6.00" height="5.70" fill="#EE7F22"/><rect x="299.50" y="321.00" width="1.63" height="14.30" fill="#8389C5" opacity="0.5"/><rect x="299.50" y="335.30" width="1.63" height="0.50" fill="#6DB33F" opacity="0.5"/><rect x="299.50" y="335.80" width="1.63" height="56.20" fill="#77277A" opacity="0.5"/><rect x="299.50" y="392.00" width="1.63" height="0.70" fill="#96632F" opacity="0.5"/><rect x="299.50" y="392.70" width="1.63" height="80.70" fill="#154C9E" opacity="0.5"/><rect x="299.50" y="473.40" width="1.63" height="30.10" fill="#EE7F22" opacity="0.5"/><rect x="293.60" y="321.00" width="6.00" height="14.30" fill="#8389C5"/><rect x="293.60" y="335.30" width="6.00" height="0.50" fill="#6DB33F"/><rect x="293.60" y="335.80" width="6.00" height="56.20" fill="#77277A"/><rect x="293.60" y="392.00" width="6.00" height="0.70" fill="#96632F"/><rect x="293.60" y="392.70" width="6.00" height="80.70" fill="#154C9E"/><rect x="293.60" y="473.40" width="6.00" height="30.10" fill="#EE7F22"/><rect x="301.03" y="321.00" width="6.00" height="19.10" fill="#8389C5"/><rect x="301.03" y="340.10" width="6.00" height="0.50" fill="#6DB33F"/><rect x="301.03" y="340.60" width="6.00" height="72.70" fill="#77277A"/><rect x="301.03" y="413.30" width="6.00" height="0.60" fill="#96632F"/><rect x="301.03" y="413.90" width="6.00" height="83.90" fill="#154C9E"/><rect x="301.03" y="497.80" width="6.00" height="5.70" fill="#EE7F22"/><rect x="369.00" y="320.20" width="6.20" height="6.70" fill="#8389C5"/><rect x="369.00" y="326.90" width="6.20" height="52.00" fill="#77277A"/><rect x="369.00" y="378.90" width="6.20" height="86.70" fill="#96632F"/><rect x="369.00" y="465.60" width="6.20" height="35.00" fill="#154C9E"/><rect x="369.00" y="500.60" width="6.20" height="2.90" fill="#EE7F22"/><rect x="432.60" y="320.20" width="6.40" height="99.40" fill="#8389C5"/><rect x="432.60" y="419.60" width="6.40" height="21.60" fill="#77277A"/><rect x="432.60" y="441.20" width="6.40" height="57.60" fill="#96632F"/><rect x="432.60" y="498.80" width="6.40" height="1.70" fill="#154C9E"/><rect x="432.60" y="500.50" width="6.40" height="3.00" fill="#EE7F22"/><polyline fill="none" stroke="#1a1413" stroke-width="1.45" stroke-linejoin="round" points="148.0,349.3 155.4,351.1 162.9,442.5 170.3,462.0 177.7,500.8 185.2,496.8 192.6,497.4 200.0,500.8 207.4,499.0 214.9,492.4 222.3,490.7 229.7,498.4 237.2,475.2 244.6,428.3 252.0,481.7 259.4,476.4 266.9,460.9 274.3,429.6 281.7,490.7 289.2,497.8 296.6,473.4 304.0,497.8 372.1,500.6 435.8,500.5"/><rect x="147.0" y="348.4" width="2" height="1.6" fill="#fff"/><rect x="154.4" y="350.2" width="2" height="1.6" fill="#fff"/><rect x="161.9" y="441.6" width="2" height="1.6" fill="#fff"/><rect x="169.3" y="461.1" width="2" height="1.6" fill="#fff"/><rect x="176.7" y="499.9" width="2" height="1.6" fill="#fff"/><rect x="184.2" y="495.9" width="2" height="1.6" fill="#fff"/><rect x="191.6" y="496.5" width="2" height="1.6" fill="#fff"/><rect x="199.0" y="499.9" width="2" height="1.6" fill="#fff"/><rect x="206.4" y="498.1" width="2" height="1.6" fill="#fff"/><rect x="213.9" y="491.5" width="2" height="1.6" fill="#fff"/><rect x="221.3" y="489.8" width="2" height="1.6" fill="#fff"/><rect x="228.7" y="497.5" width="2" height="1.6" fill="#fff"/><rect x="236.2" y="474.3" width="2" height="1.6" fill="#fff"/><rect x="243.6" y="427.4" width="2" height="1.6" fill="#fff"/><rect x="251.0" y="480.8" width="2" height="1.6" fill="#fff"/><rect x="258.4" y="475.5" width="2" height="1.6" fill="#fff"/><rect x="265.9" y="460.0" width="2" height="1.6" fill="#fff"/><rect x="273.3" y="428.7" width="2" height="1.6" fill="#fff"/><rect x="280.7" y="489.8" width="2" height="1.6" fill="#fff"/><rect x="288.2" y="496.9" width="2" height="1.6" fill="#fff"/><rect x="295.6" y="472.5" width="2" height="1.6" fill="#fff"/><rect x="303.0" y="496.9" width="2" height="1.6" fill="#fff"/><rect x="371.1" y="499.7" width="2" height="1.6" fill="#fff"/><rect x="434.8" y="499.6" width="2" height="1.6" fill="#fff"/></g>
<g id="axes"><rect x="74" y="321.2" width="2.6" height="183.6" fill="#000"/><rect x="68.5" y="502.20" width="6" height="2.6" fill="#000"/><text transform="translate(66.3,508.70) scale(1,1.1)" text-anchor="end" class="tk">0</text><rect x="68.5" y="466.00" width="6" height="2.6" fill="#000"/><text transform="translate(66.3,472.50) scale(1,1.1)" text-anchor="end" class="tk">20</text><rect x="68.5" y="429.80" width="6" height="2.6" fill="#000"/><text transform="translate(66.3,436.30) scale(1,1.1)" text-anchor="end" class="tk">40</text><rect x="68.5" y="393.60" width="6" height="2.6" fill="#000"/><text transform="translate(66.3,400.10) scale(1,1.1)" text-anchor="end" class="tk">60</text><rect x="68.5" y="357.40" width="6" height="2.6" fill="#000"/><text transform="translate(66.3,363.90) scale(1,1.1)" text-anchor="end" class="tk">80</text><rect x="68.5" y="321.20" width="6" height="2.6" fill="#000"/><text transform="translate(66.3,327.70) scale(1,1.1)" text-anchor="end" class="tk">100</text><rect x="74" y="502.2" width="243.5" height="2.6" fill="#000"/><rect x="325.5" y="502.2" width="56.5" height="2.6" fill="#000"/><rect x="391" y="502.2" width="69" height="2.6" fill="#000"/><rect x="80.20" y="503" width="2.6" height="10.5" fill="#000"/><text transform="translate(84.0,538.0) rotate(-45)" text-anchor="middle" class="tx" x="0" y="5.1">D-10</text><rect x="154.70" y="503" width="2.6" height="10.5" fill="#000"/><text transform="translate(153.8,534.4) rotate(-45)" text-anchor="middle" class="tx" x="0" y="5.1">D1</text><rect x="229.00" y="503" width="2.6" height="10.5" fill="#000"/><text transform="translate(223.6,537.1) rotate(-45)" text-anchor="middle" class="tx" x="0" y="5.1">D11</text><rect x="303.30" y="503" width="2.6" height="10.5" fill="#000"/><text transform="translate(295.2,536.4) rotate(-45)" text-anchor="middle" class="tx" x="0" y="5.1">D21</text><rect x="377.20" y="503" width="2.6" height="10.5" fill="#000"/><text transform="translate(370.6,536.4) rotate(-45)" text-anchor="middle" class="tx" x="0" y="5.1">D51</text><rect x="452.20" y="503" width="2.6" height="10.5" fill="#000"/><text transform="translate(450.2,536.4) rotate(-45)" text-anchor="middle" class="tx" x="0" y="5.1">D91</text><line x1="315.8" y1="489" x2="319.7" y2="518.2" stroke="#000" stroke-width="1.5"/><line x1="322.4" y1="489" x2="327.7" y2="518.2" stroke="#000" stroke-width="1.5"/><line x1="379.9" y1="489" x2="384.6" y2="518.2" stroke="#000" stroke-width="1.5"/><line x1="387.8" y1="489" x2="393.4" y2="518.2" stroke="#000" stroke-width="1.5"/></g>
<g id="legend"><rect x="506.3" y="317.5" width="24.8" height="13.2" rx="1.2" fill="#EE7F22"/><text x="543.4" y="327.9" class="lg">不动杆菌属（鲍曼不动杆菌)</text><rect x="506.3" y="347.3" width="24.8" height="13.2" rx="1.2" fill="#154C9E"/><text x="543.4" y="357.7" class="lg">寡养单胞菌属</text><rect x="506.3" y="377.1" width="24.8" height="13.2" rx="1.2" fill="#96632F"/><text x="543.4" y="387.5" class="lg">棒状杆菌属</text><rect x="506.3" y="406.9" width="24.8" height="13.2" rx="1.2" fill="#77277A"/><text x="543.4" y="417.3" class="lg">拟杆菌属</text><rect x="506.3" y="436.7" width="24.8" height="13.2" rx="1.2" fill="#6DB33F"/><text x="543.4" y="447.1" class="lg">普雷沃氏菌属</text><rect x="506.3" y="466.5" width="24.8" height="13.2" rx="1.2" fill="#8389C5"/><text x="543.4" y="476.9" class="lg">韦荣氏球菌属</text><rect x="506.3" y="496.3" width="24.8" height="13.2" rx="1.2" fill="#666666"/><text x="543.4" y="506.7" class="lg">假单胞菌属</text><rect x="506.3" y="526.1" width="24.8" height="13.2" rx="1.2" fill="#E8E8E8"/><text x="543.4" y="536.5" class="lg">其他</text></g>
<g id="labels">
<text x="74.3" y="232" class="h">肺部感染</text>
<text x="283.2" y="221" class="h">多重PCR鉴定</text>
<text x="283.2" y="242" class="h">为KL2型AB</text>
<text x="474.2" y="221" class="h">预制备的</text>
<text x="474.2" y="242" class="h">噬菌体</text>
<text x="636.9" y="232" class="h">临床应用</text>
<text x="345" y="282.5" text-anchor="middle" class="h">患者肺部菌群相对丰度</text>
<text x="223.7" y="302.5" text-anchor="middle" class="ab">ABCK2</text>
<rect x="152.7" y="306.7" width="154.7" height="6" fill="#E8608B"/>
<text transform="translate(32.2,405.7) rotate(-90)" text-anchor="middle" class="yl">百分比 (%)</text>
<text x="249.4" y="574" text-anchor="middle" class="xl">Time (day)</text>
</g>
</svg>
</body></html>
